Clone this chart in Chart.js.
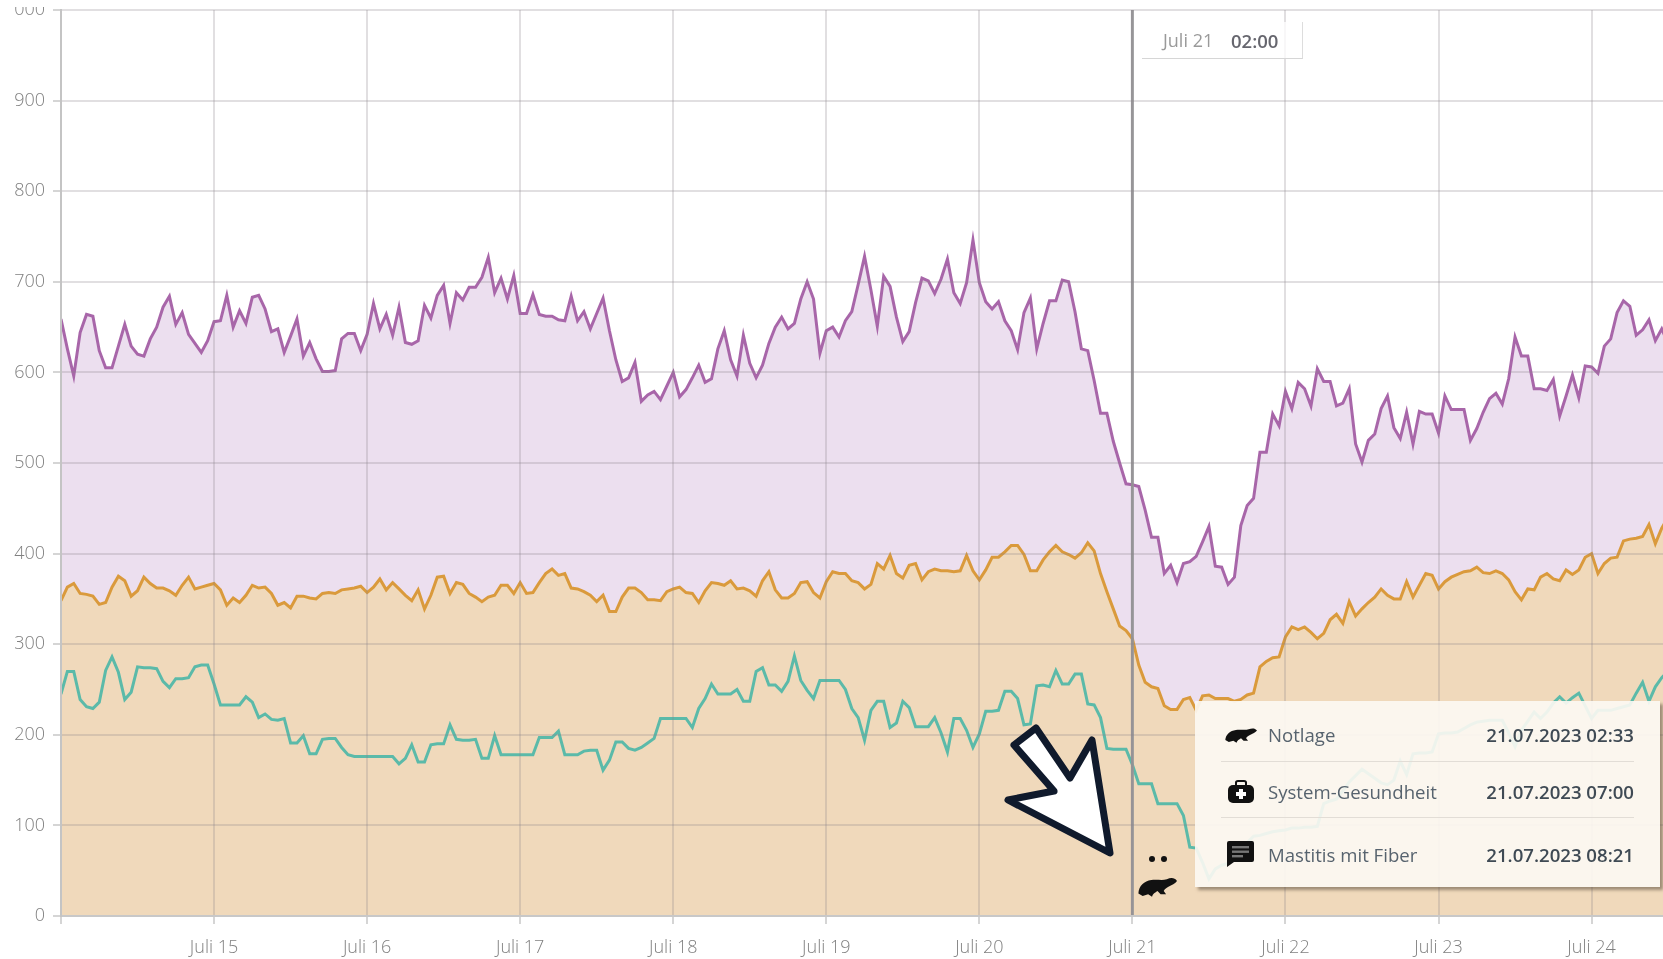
<!DOCTYPE html>
<html><head><meta charset="utf-8">
<script src="https://cdn.jsdelivr.net/npm/chart.js@4"></script>
<style>
html,body{margin:0;padding:0;background:#fff;width:1663px;height:959px;overflow:hidden;font-family:"Open Sans",sans-serif}
#c{position:absolute;left:0;top:0}
.abs{position:absolute}
#topcut{left:0;top:0;width:52px;height:7px;background:#fff}
#hairbox{left:1142px;top:22px;width:161px;height:37px;background:rgba(255,255,255,.75);border-right:1px solid #ddd;border-bottom:1px solid #d6d6d6;box-sizing:border-box;font-size:18px;line-height:37px;color:#9a9a9a}
#hairbox span{position:absolute;left:21px}
#hairbox b{position:absolute;left:89px;font-size:18.5px;color:#66666e;font-weight:600}
#tip{left:1195px;top:701px;width:465px;height:186px;background:rgba(252,248,243,.91);box-shadow:3px 3px 3px rgba(90,75,60,.55)}
.row{position:absolute;left:73px;font-size:18.6px;line-height:24px;color:#57636e}
.date{position:absolute;right:26px;font-size:18.6px;line-height:24px;font-weight:600;color:#3f4a54}
.sep{position:absolute;left:26px;width:413px;height:1px;background:#e2ddd6}
svg{position:absolute;overflow:visible}
</style></head><body>
<canvas id="c" width="1663" height="959"></canvas>
<div class="abs" id="topcut"></div>
<div class="abs" id="hairbox"><span>Juli 21</span><b>02:00</b></div>
<div class="abs" id="tip">
  <div class="row" style="top:22px">Notlage</div><div class="date" style="top:22px">21.07.2023 02:33</div>
  <div class="sep" style="top:60px"></div>
  <div class="row" style="top:79px">System-Gesundheit</div><div class="date" style="top:79px">21.07.2023 07:00</div>
  <div class="sep" style="top:116px"></div>
  <div class="row" style="top:142px">Mastitis mit Fiber</div><div class="date" style="top:142px">21.07.2023 08:21</div>
  <svg style="left:30px;top:25px" width="32" height="18" viewBox="0 0 100 56"><path d="M1 44C2 26 16 14 34 12C50 10 62 14 74 10C84 6 94 6 100 14C96 20 86 24 78 28C72 31 68 34 66 38L72 46L58 46L50 38C44 42 38 44 36 52L26 46L12 50Z" fill="#111"/></svg>
  <svg style="left:32px;top:79px" width="28" height="23" viewBox="0 0 28 23"><path d="M9 5V2.5Q9 1 11 1H17Q19 1 19 2.5V5" fill="none" stroke="#111" stroke-width="2"/><rect x="1" y="5" width="26" height="18" rx="5" fill="#111"/><path d="M12 9h4v3h3v4h-3v3h-4v-3H9v-4h3z" fill="#fff"/></svg>
  <svg style="left:32px;top:140px" width="27" height="26" viewBox="0 0 27 26"><path d="M2 0H25Q27 0 27 2V19Q27 21 25 21H7L0 26V2Q0 0 2 0Z" fill="#111"/><rect x="5" y="5" width="17" height="2.4" fill="#777"/><rect x="5" y="9.5" width="17" height="2.4" fill="#777"/><rect x="5" y="14" width="11" height="2.4" fill="#777"/></svg>
</div>
<svg style="left:0;top:0" width="1663" height="959" viewBox="0 0 1663 959">
  <path d="M1036 728L1070 778L1092 740L1110 853L1008 800L1054 791L1014 745Z" fill="#fff" stroke="#101a2c" stroke-width="7" stroke-linejoin="round"/>
  <circle cx="1152" cy="859" r="3" fill="#111"/><circle cx="1164" cy="859" r="3" fill="#111"/>
  <path transform="translate(1138 875) scale(.39 .42)" d="M1 44C2 26 16 14 34 12C50 10 62 14 74 10C84 6 94 6 100 14C96 20 86 24 78 28C72 31 68 34 66 38L72 46L58 46L50 38C44 42 38 44 36 52L26 46L12 50Z" fill="#111"/>
</svg>
<script>
const dayLabels=["","Juli 15","Juli 16","Juli 17","Juli 18","Juli 19","Juli 20","Juli 21","Juli 22","Juli 23","Juli 24"];
const yTickLabels=["0","100","200","300","400","500","600","700","800","900","000"];
const markerHour=168;
const seriesPurple=[659,626,596,644,664,662,624,605,605,629,653,629,620,618,637,650,672,684,653,666,642,632,622,635,656,657,685,650,668,654,683,685,670,645,648,622,640,659,618,633,615,601,601,602,637,643,643,624,642,676,648,664,641,672,633,631,635,674,660,685,696,654,688,680,694,694,705,727,688,704,681,707,665,665,686,664,662,662,658,
657,684,657,667,648,665,682,646,614,590,594,611,568,575,579,570,585,600,573,581,594,608,589,593,626,646,614,596,641,610,594,608,632,650,661,648,654,681,700,681,621,646,650,639,657,667,697,728,691,651,706,695,661,634,645,677,704,701,687,703,725,688,676,699,746,699,678,670,678,657,646,625,666,682,626,654,679,679,702,700,667,626,624,591,555,555,524,500,477,476,
474,448,418,418,378,387,368,389,391,397,413,430,386,385,366,374,431,453,461,512,512,554,541,579,560,589,582,563,604,590,590,563,566,582,521,501,525,532,560,574,539,527,556,521,557,554,554,533,574,559,559,559,525,538,556,571,577,565,593,639,618,618,582,582,580,592,552,574,597,572,607,606,599,629,637,666,679,673,641,647,658,635,648,632];
const seriesOrange=[348,363,367,356,355,353,344,346,363,375,370,353,359,374,367,362,362,359,354,365,374,361,363,365,367,360,343,351,346,354,365,362,363,356,343,346,340,353,353,351,350,356,357,356,360,361,362,364,357,363,372,360,368,361,354,348,360,339,354,374,375,356,368,366,356,352,347,352,354,365,365,356,368,356,357,
368,378,383,376,378,362,361,358,354,347,354,336,336,352,362,362,357,349,349,348,358,361,363,357,356,346,359,368,367,365,370,361,362,359,353,370,380,360,351,351,356,368,369,357,351,369,380,378,378,370,368,361,366,389,383,398,378,373,387,389,371,380,383,381,381,380,381,398,381,371,382,396,396,402,409,409,399,381,381,393,402,409,402,399,395,401,412,403,378,358,339,320,315,
306,277,258,253,251,232,228,228,239,241,227,243,244,240,240,240,237,239,244,246,275,281,285,286,308,319,316,319,313,306,312,327,333,323,347,331,339,346,352,361,354,350,350,369,352,365,378,376,361,369,374,377,380,381,385,379,378,381,378,371,358,349,361,360,374,378,372,370,382,377,382,396,400,378,389,395,396,414,416,417,419,432,411,428,440];
const seriesTeal=[245,270,270,239,231,229,236,271,286,269,239,247,275,274,274,273,259,252,262,262,263,275,277,277,256,233,233,233,233,242,236,219,223,217,216,218,191,191,199,179,179,195,196,196,186,178,176,176,176,176,176,176,176,168,174,189,170,170,189,190,190,211,195,194,194,195,174,174,199,178,178,178,178,178,178,197,197,197,204,178,
178,178,182,183,183,161,172,192,192,185,183,186,191,196,218,218,218,218,218,208,229,240,256,245,245,245,250,237,237,270,274,255,255,248,259,287,260,249,240,260,260,260,260,250,229,219,194,227,237,237,208,213,237,230,209,209,209,219,202,181,218,218,205,186,201,226,226,227,248,248,240,211,212,254,255,253,271,256,256,267,267,234,233,219,185,184,184,184,
167,146,146,146,124,124,124,124,111,76,75,59,41,52,56,58,63,74,81,88,89,91,93,94,95,97,97,98,98,99,124,127,129,138,148,155,162,157,152,147,145,150,171,156,179,180,180,181,201,202,202,203,207,211,214,215,216,216,216,202,187,205,215,225,218,225,235,242,235,241,246,232,218,227,227,227,229,231,233,246,258,237,253,263,270];
const pts=a=>a.map((y,x)=>({x,y}));
const hairline={id:'hairline',afterDatasetsDraw(ch){
  const {ctx,chartArea:a,scales:{x}}=ch,px=x.getPixelForValue(markerHour);
  ctx.save();ctx.strokeStyle='rgba(150,150,152,.95)';ctx.lineWidth=3;
  ctx.beginPath();ctx.moveTo(px,a.top);ctx.lineTo(px,a.bottom);ctx.stroke();ctx.restore();
}};
new Chart(document.getElementById('c'),{
 type:'line',
 data:{datasets:[
  {data:pts(seriesTeal),borderColor:'#5bbaa9',borderWidth:3,pointRadius:0,tension:0,fill:false,order:1},
  {data:pts(seriesOrange),borderColor:'#da9a3c',backgroundColor:'#f0d9bb',borderWidth:3,pointRadius:0,tension:0,fill:'origin',order:2},
  {data:pts(seriesPurple),borderColor:'#a866a9',backgroundColor:'#ecdfef',borderWidth:3,pointRadius:0,tension:0,fill:'origin',order:3}
 ]},
 options:{responsive:false,animation:false,devicePixelRatio:1,
  layout:{padding:{top:0,left:0,right:0,bottom:0}},
  plugins:{legend:{display:false},tooltip:{enabled:false},title:{display:false}},
  scales:{
   x:{type:'linear',min:0,max:251.2,
    afterFit(s){s.height=43},
    afterBuildTicks(s){s.ticks=dayLabels.map((_,i)=>({value:i*24}))},
    grid:{z:1,color:'rgba(140,130,140,.26)',lineWidth:2,tickLength:8,tickColor:'#d5d5d5'},
    border:{z:2,color:'#c8c8c8',width:2},
    ticks:{autoSkip:false,maxRotation:0,padding:13,color:'#808080',font:{family:'"Open Sans"',size:18,weight:'300'},callback:(v)=>dayLabels[Math.round(v/24)]??''}
   },
   y:{min:0,max:1000,
    afterFit(s){s.width=61;s.paddingTop=10},
    afterBuildTicks(s){s.ticks=yTickLabels.map((_,i)=>({value:i*100}))},
    grid:{z:1,color:'rgba(140,130,140,.26)',lineWidth:2,tickLength:8,tickColor:'#d5d5d5'},
    border:{z:2,color:'#c4c4c4',width:2},
    ticks:{padding:8,color:'#808080',font:{family:'"Open Sans"',size:18,weight:'300'},callback:(v)=>yTickLabels[Math.round(v/100)]}
   }
  }
 },
 plugins:[hairline]
});
</script>
</body></html>
